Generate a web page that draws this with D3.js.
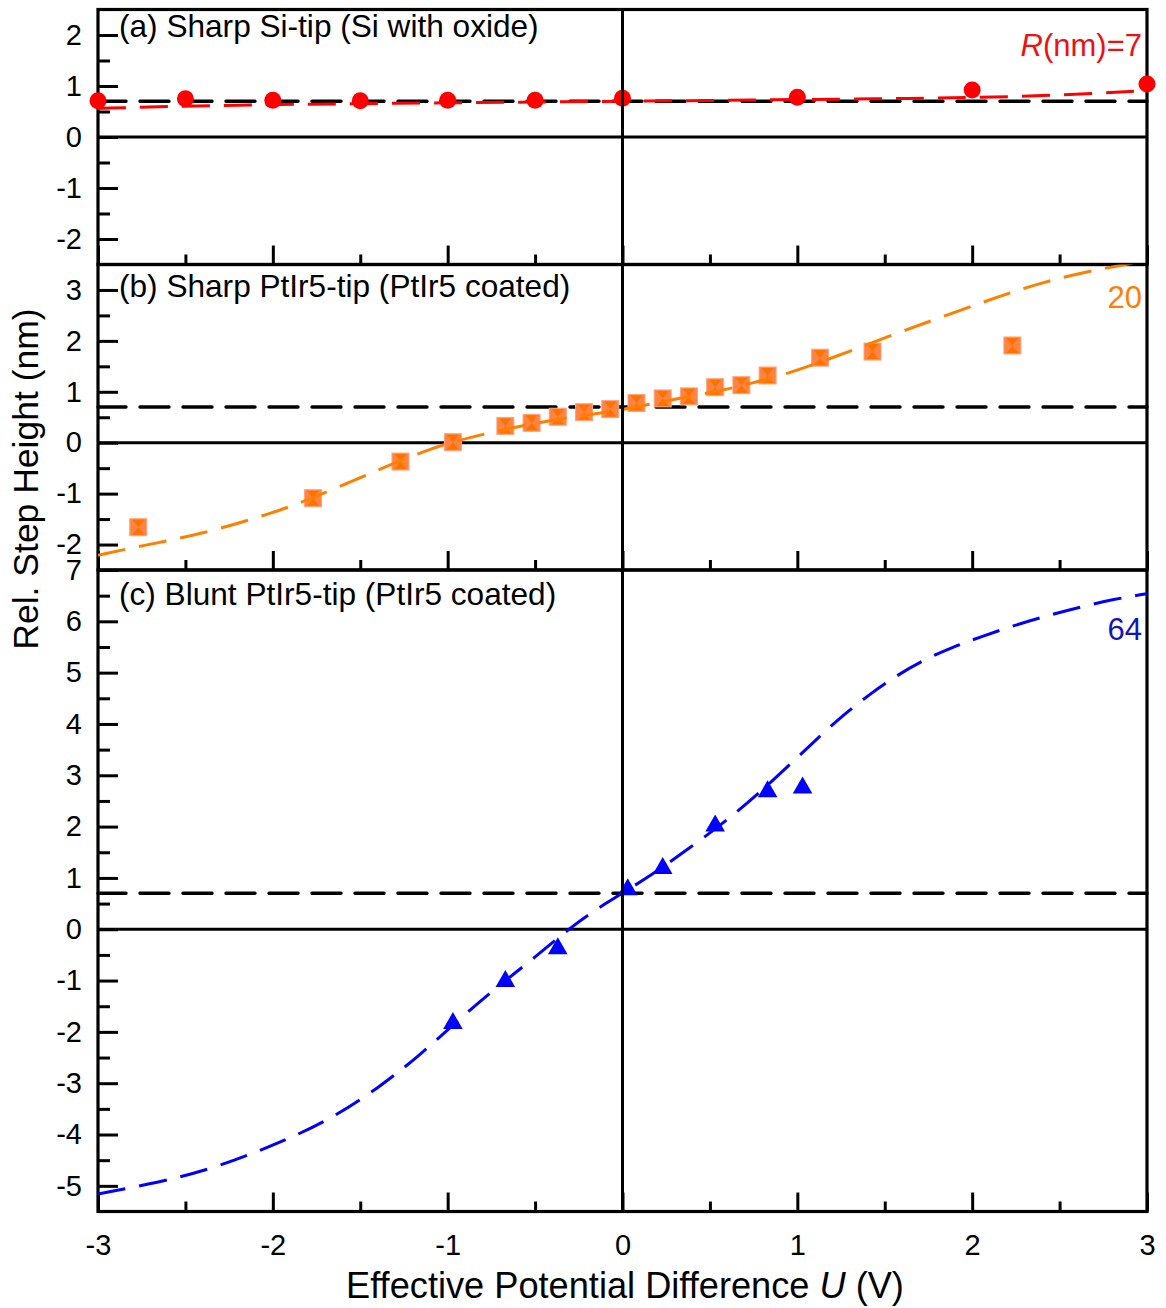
<!DOCTYPE html>
<html>
<head>
<meta charset="utf-8">
<script src="https://cdn.jsdelivr.net/npm/d3@7"></script>
<style>
  body { margin: 0; background: #fff; }
  svg text { font-family: "Liberation Sans", Arial, Helvetica, sans-serif; fill: #000; }
</style>
</head>
<body>
<svg id="chart" width="1166" height="1308"></svg>
<script>
// ---------- data ----------
const xTickValues = [-3, -2, -1, 0, 1, 2, 3];
const refHeight = 0.7;               // nominal step height (black dashed line)

// (a) sharp Si tip, R = 7 nm
const siU = [-3, -2.5, -2, -1.5, -1, -0.5, 0, 1, 2, 3];
const siH = [0.71, 0.75, 0.72, 0.71, 0.72, 0.72, 0.76, 0.78, 0.92, 1.04];
const siFitU = [-3, -2.6, -2.13, -1.65, -1, -0.5, 0, 0.5, 1, 1.5, 1.76, 2.26, 2.75, 3];
const siFitH = [0.56, 0.60, 0.63, 0.65, 0.67, 0.685, 0.70, 0.715, 0.735, 0.75, 0.76, 0.79, 0.86, 0.91];
const siTicks = [-2, -1, 0, 1, 2];

// (b) sharp PtIr5 tip, R = 20 nm
const ptU = [-2.77, -1.77, -1.27, -0.97, -0.67, -0.52, -0.37, -0.22, -0.07, 0.08, 0.23, 0.38, 0.53, 0.68, 0.83, 1.13, 1.43, 2.23];
const ptH = [-1.66, -1.09, -0.37, 0.01, 0.33, 0.39, 0.51, 0.60, 0.66, 0.78, 0.87, 0.91, 1.09, 1.13, 1.32, 1.67, 1.79, 1.91];
const ptFitU = [-3, -2.76, -2.41, -2.0, -1.77, -1.37, -1.08, -0.88, -0.6, -0.3, 0, 0.3, 0.55, 0.74, 0.95, 1.16, 1.32, 1.59, 1.86, 2.15, 2.41, 2.66, 2.89, 3];
const ptFitH = [-2.21, -2.03, -1.80, -1.38, -1.09, -0.49, -0.09, 0.10, 0.32, 0.50, 0.64, 0.86, 1.01, 1.17, 1.36, 1.62, 1.82, 2.18, 2.51, 2.87, 3.16, 3.36, 3.51, 3.58];
const ptTicks = [-2, -1, 0, 1, 2, 3];

// (c) blunt PtIr5 tip, R = 64 nm
const bluntU = [-0.97, -0.67, -0.37, 0.03, 0.23, 0.53, 0.83, 1.03];
const bluntH = [-1.79, -0.97, -0.33, 0.82, 1.23, 2.06, 2.73, 2.80];
const bluntFitU = [-3, -2.65, -2.37, -2.11, -1.9, -1.65, -1.4, -1.17, -0.93, -0.72, -0.5, -0.29, -0.115, 0.13, 0.37, 0.61, 0.85, 1.09, 1.25, 1.41, 1.57, 1.73, 1.89, 2.05, 2.24, 2.43, 2.62, 2.81, 3];
const bluntFitH = [-5.16, -4.93, -4.69, -4.36, -4.07, -3.66, -3.10, -2.49, -1.74, -1.13, -0.55, 0.06, 0.47, 0.97, 1.55, 2.15, 2.86, 3.64, 4.14, 4.57, 4.95, 5.26, 5.50, 5.70, 5.92, 6.11, 6.28, 6.43, 6.54];
const bluntTicks = [-5, -4, -3, -2, -1, 0, 1, 2, 3, 4, 5, 6, 7];

// ---------- layout ----------
const svg = d3.select("#chart");
const left = 98, right = 1147;
const x = d3.scaleLinear().domain([-3, 3]).range([left, right]);
const plainNum = d => String(d);     // hyphen-minus labels

const zip = (u, h) => u.map((v, i) => ({ u: v, h: h[i] }));

const panels = [
  { key: "a", top: 9.5, bottom: 264.5, domain: [-2.5, 2.5], ticks: siTicks,
    label: "(a) Sharp Si-tip (Si with oxide)", labelY: 37,
    color: "#ff0000", marker: "circle",
    pts: zip(siU, siH), fit: zip(siFitU, siFitH) },
  { key: "b", top: 264.5, bottom: 570, domain: [-2.5, 3.5], ticks: ptTicks,
    label: "(b) Sharp PtIr5-tip (PtIr5 coated)", labelY: 297,
    color: "#ff8000", marker: "square",
    pts: zip(ptU, ptH), fit: zip(ptFitU, ptFitH) },
  { key: "c", top: 570, bottom: 1211.5, domain: [-5.5, 7], ticks: bluntTicks,
    label: "(c) Blunt PtIr5-tip (PtIr5 coated)", labelY: 605,
    color: "#0000ff", marker: "triangle",
    pts: zip(bluntU, bluntH), fit: zip(bluntFitU, bluntFitH) }
];

const halfSteps = (lo, hi) => d3.range(Math.ceil(lo * 2), Math.floor(hi * 2) + 1)
  .map(d => d / 2).filter(d => !Number.isInteger(d) && d > lo && d < hi);
const xMinor = halfSteps(-3, 3);

panels.forEach((p, i) => {
  const y = d3.scaleLinear().domain(p.domain).range([p.bottom, p.top]);
  const g = svg.append("g").attr("class", "panel-" + p.key);

  g.append("clipPath").attr("id", "clip-" + p.key)
    .append("rect").attr("x", left).attr("y", p.top)
    .attr("width", right - left).attr("height", p.bottom - p.top);

  // frame
  g.append("rect").attr("x", left).attr("y", p.top)
    .attr("width", right - left).attr("height", p.bottom - p.top)
    .attr("fill", "none").attr("stroke", "#000").attr("stroke-width", 3.2);

  // zero line
  g.append("line").attr("x1", left).attr("x2", right)
    .attr("y1", y(0)).attr("y2", y(0))
    .attr("stroke", "#000").attr("stroke-width", 3);

  // y axis: major and minor ticks pointing inward
  const yAxis = d3.axisLeft(y).tickValues(p.ticks).tickFormat(plainNum)
    .tickSizeInner(-20).tickSizeOuter(0).tickPadding(16);
  const ya = g.append("g").attr("transform", `translate(${left},0)`).call(yAxis);
  ya.select(".domain").remove();
  ya.selectAll(".tick line").attr("stroke-width", 3);
  ya.selectAll(".tick text").attr("font-size", 29).attr("fill", "#000")
    .attr("font-family", "Liberation Sans, Arial, sans-serif");

  const yMinor = d3.axisLeft(y).tickValues(halfSteps(p.domain[0], p.domain[1]))
    .tickFormat("").tickSizeInner(-12).tickSizeOuter(0);
  const ym = g.append("g").attr("transform", `translate(${left},0)`).call(yMinor);
  ym.select(".domain").remove();
  ym.selectAll(".tick line").attr("stroke-width", 3);

  // x ticks along the bottom of every panel
  const last = i === panels.length - 1;
  const xAxis = d3.axisBottom(x).tickValues(xTickValues)
    .tickFormat(last ? plainNum : "")
    .tickSizeInner(-19).tickSizeOuter(0).tickPadding(23);
  const xa = g.append("g").attr("transform", `translate(0,${p.bottom})`).call(xAxis);
  xa.select(".domain").remove();
  xa.selectAll(".tick line").attr("stroke-width", 3);
  xa.selectAll(".tick text").attr("font-size", 29).attr("fill", "#000")
    .attr("font-family", "Liberation Sans, Arial, sans-serif");

  const xMin = d3.axisBottom(x).tickValues(xMinor).tickFormat("")
    .tickSizeInner(-10).tickSizeOuter(0);
  const xm = g.append("g").attr("transform", `translate(0,${p.bottom})`).call(xMin);
  xm.select(".domain").remove();
  xm.selectAll(".tick line").attr("stroke-width", 3);

  // nominal step height
  g.append("line").attr("x1", left).attr("x2", right)
    .attr("y1", y(refHeight)).attr("y2", y(refHeight))
    .attr("stroke", "#000").attr("stroke-width", 3.4)
    .attr("stroke-linecap", "round")
    .attr("stroke-dasharray", "29,14").attr("stroke-dashoffset", 1);

  // measured points
  const mg = g.append("g");
  if (p.marker === "circle") {
    mg.selectAll("circle").data(p.pts).join("circle")
      .attr("cx", d => x(d.u)).attr("cy", d => y(d.h)).attr("r", 8.5)
      .attr("fill", p.color);
  } else if (p.marker === "square") {
    const s = mg.selectAll("g").data(p.pts).join("g")
      .attr("transform", d => `translate(${x(d.u)},${y(d.h)})`);
    s.append("rect").attr("x", -8.5).attr("y", -8.5).attr("width", 17).attr("height", 17)
      .attr("fill", "#ff8443").attr("stroke", "#ffa47a").attr("stroke-width", 1);
    s.append("path").attr("d", "M-6,-7.5L6,-7.5L0,0ZM-6,7.5L6,7.5L0,0Z")
      .attr("fill", "#ff7200");
  } else {
    mg.selectAll("path").data(p.pts).join("path")
      .attr("transform", d => `translate(${x(d.u)},${y(d.h)})`)
      .attr("d", "M0,-9L9.8,8L-9.8,8Z")
      .attr("fill", p.color);
  }

  // model curve
  const line = d3.line().x(d => x(d.u)).y(d => y(d.h)).curve(d3.curveBasis);
  g.append("path").datum(p.fit)
    .attr("clip-path", `url(#clip-${p.key})`)
    .attr("d", line).attr("fill", "none")
    .attr("stroke", p.color).attr("stroke-width", 3)
    .attr("stroke-dasharray", "28,14");

  // panel title
  g.append("text").attr("x", 119).attr("y", p.labelY)
    .attr("font-size", 31.6).text(p.label);
});

// vertical zero line through all panels
svg.append("line").attr("x1", x(0)).attr("x2", x(0))
  .attr("y1", panels[0].top).attr("y2", panels[2].bottom)
  .attr("stroke", "#000").attr("stroke-width", 3);

// radius annotations
const rLabel = svg.append("text").attr("x", 1142).attr("y", 56)
  .attr("text-anchor", "end").attr("font-size", 31).style("fill", "#ee1111");
rLabel.append("tspan").attr("font-style", "italic").text("R");
rLabel.append("tspan").text("(nm)=7");
svg.append("text").attr("x", 1142).attr("y", 308).attr("text-anchor", "end")
  .attr("font-size", 31).style("fill", "#ff8000").text("20");
svg.append("text").attr("x", 1142).attr("y", 640).attr("text-anchor", "end")
  .attr("font-size", 31).style("fill", "#1414b8").text("64");

// axis titles
const xt = svg.append("text").attr("x", 625).attr("y", 1298)
  .attr("text-anchor", "middle").attr("font-size", 36.2);
xt.append("tspan").text("Effective Potential Difference ");
xt.append("tspan").attr("font-style", "italic").text("U");
xt.append("tspan").text(" (V)");

svg.append("text").attr("transform", "translate(38,479) rotate(-90)")
  .attr("text-anchor", "middle").attr("font-size", 35.5)
  .text("Rel. Step Height (nm)");
</script>
</body>
</html>
